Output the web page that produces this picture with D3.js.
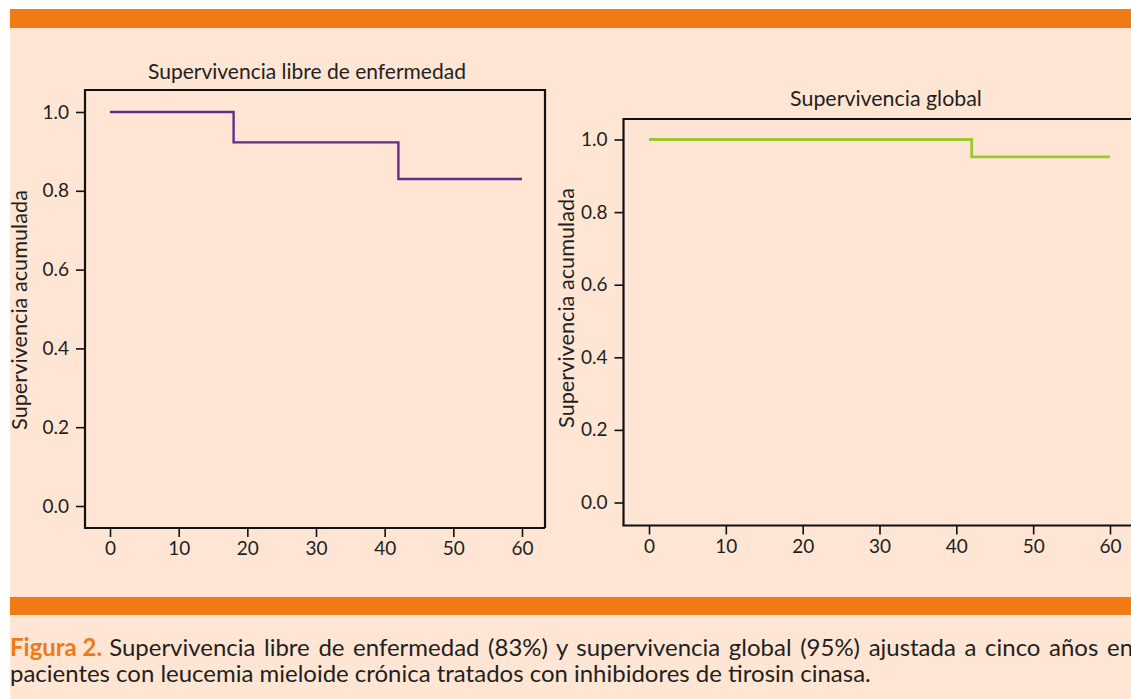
<!DOCTYPE html>
<html>
<head>
<meta charset="utf-8">
<script src="https://cdn.jsdelivr.net/npm/d3@7"></script>
<style>
  body { margin: 0; background: #fff; }
  text { font-family: Lato, "Open Sans", sans-serif; fill: #231f20; }
</style>
</head>
<body>
<script>
// Kaplan-Meier curves, months vs cumulative survival
var months_dfs = [0, 18, 42, 60];
var surv_dfs = [1.0, 0.923, 0.83, 0.83];
var months_os = [0, 42, 60];
var surv_os = [1.0, 0.952, 0.952];

var x_ticks = [0, 10, 20, 30, 40, 50, 60];
var y_ticks = [0.0, 0.2, 0.4, 0.6, 0.8, 1.0];

var title_dfs = "Supervivencia libre de enfermedad";
var title_os = "Supervivencia global";
var y_title = "Supervivencia acumulada";
var caption_bold = "Figura 2.";
var caption_1 = "Supervivencia libre de enfermedad (83%) y supervivencia global (95%) ajustada a cinco años en";
var caption_2 = "pacientes con leucemia mieloide crónica tratados con inhibidores de tirosin cinasa.";

var orange = "#f07a14";
var peach = "#fee5d4";

var svg = d3.select("body").append("svg").attr("width", 1131).attr("height", 699);

// background + orange bands
svg.append("rect").attr("x", 0).attr("y", 0).attr("width", 1131).attr("height", 699).style("fill", "#fff");
svg.append("rect").attr("x", 10).attr("y", 28).attr("width", 1121).attr("height", 671).style("fill", peach);
svg.append("rect").attr("x", 10).attr("y", 9).attr("width", 1121).attr("height", 19).style("fill", orange);
svg.append("rect").attr("x", 10).attr("y", 597).attr("width", 1121).attr("height", 18).style("fill", orange);

// scale the font so the text has a given width
function fit(sel, width) {
    var base = 20;
    sel.style("font-size", base + "px");
    var len = sel.node().getComputedTextLength();
    sel.style("font-size", (base * width / len) + "px");
    return sel;
}

function panel(cfg) {
    var sx = d3.scaleLinear().domain([0, 60]).range([cfg.x0, cfg.x60]);
    var sy = d3.scaleLinear().domain([0, 1]).range([cfg.y0, cfg.y1]);
    var g = svg.append("g");

    // frame
    g.append("path")
        .attr("d", "M" + cfg.right + "," + cfg.bottom + "L" + cfg.left + "," + cfg.bottom +
            "L" + cfg.left + "," + cfg.top + "L" + cfg.right + "," + cfg.top +
            (cfg.closed ? "L" + cfg.right + "," + cfg.bottom : ""))
        .style("fill", "none").style("stroke", "#111").style("stroke-width", 2.2);

    var xa = g.append("g").attr("transform", "translate(0," + cfg.bottom + ")")
        .call(d3.axisBottom(sx).tickValues(x_ticks).tickSize(9).tickPadding(5).tickFormat(d3.format("d")));
    var ya = g.append("g").attr("transform", "translate(" + cfg.left + ",0)")
        .call(d3.axisLeft(sy).tickValues(y_ticks).tickSize(9).tickPadding(7).tickFormat(d3.format(".1f")));
    [xa, ya].forEach(function (a) {
        a.select(".domain").remove();
        a.selectAll("line").style("stroke", "#111").style("stroke-width", 1.6);
        a.selectAll("text").style("font-family", "Lato, sans-serif").style("font-size", "19px").style("fill", "#231f20");
    });

    var line = d3.line()
        .x(function (d) { return sx(d[0]); })
        .y(function (d) { return sy(d[1]); })
        .curve(d3.curveStepAfter);
    g.append("path")
        .datum(cfg.t.map(function (t, i) { return [t, cfg.s[i]]; }))
        .attr("d", line)
        .style("fill", "none").style("stroke", cfg.color).style("stroke-width", cfg.lw);

    var t = g.append("text").text(cfg.title)
        .attr("x", cfg.title_x).attr("y", cfg.title_y)
        .attr("text-anchor", "middle").attr("dominant-baseline", "central");
    fit(t, cfg.title_w);

    var yt = g.append("text").text(y_title)
        .attr("transform", "translate(" + cfg.ytitle_x + "," + cfg.ytitle_y + ") rotate(-90)")
        .attr("text-anchor", "middle").attr("dominant-baseline", "central");
    fit(yt, 240);
}

panel({
    left: 85, right: 545, top: 90, bottom: 528, closed: true,
    x0: 110, x60: 522, y0: 506, y1: 112,
    t: months_dfs, s: surv_dfs, color: "#6a2a8c", lw: 2.4,
    title: title_dfs, title_x: 307, title_y: 70, title_w: 318,
    ytitle_x: 19, ytitle_y: 310
});

panel({
    left: 623.5, right: 1140, top: 119, bottom: 525.5, closed: false,
    x0: 649, x60: 1110, y0: 502.5, y1: 139.5,
    t: months_os, s: surv_os, color: "#9bc92f", lw: 2.8,
    title: title_os, title_x: 886, title_y: 98, title_w: 192,
    ytitle_x: 566, ytitle_y: 308
});

// caption: line 2 sets the size, line 1 is justified wider (runs off the edge)
var c2 = svg.append("text").attr("x", 10).attr("y", 682).text(caption_2);
fit(c2, 861);
var fs = c2.style("font-size");
var cb = svg.append("text").attr("x", 10).attr("y", 656).text(caption_bold)
    .style("font-size", fs).style("fill", orange).style("font-weight", "bold");
var bw = cb.node().getComputedTextLength();
svg.append("text").attr("x", 10 + bw + 7).attr("y", 656).text(caption_1)
    .style("font-size", fs).style("word-spacing", "2.5px");
</script>
</body>
</html>
